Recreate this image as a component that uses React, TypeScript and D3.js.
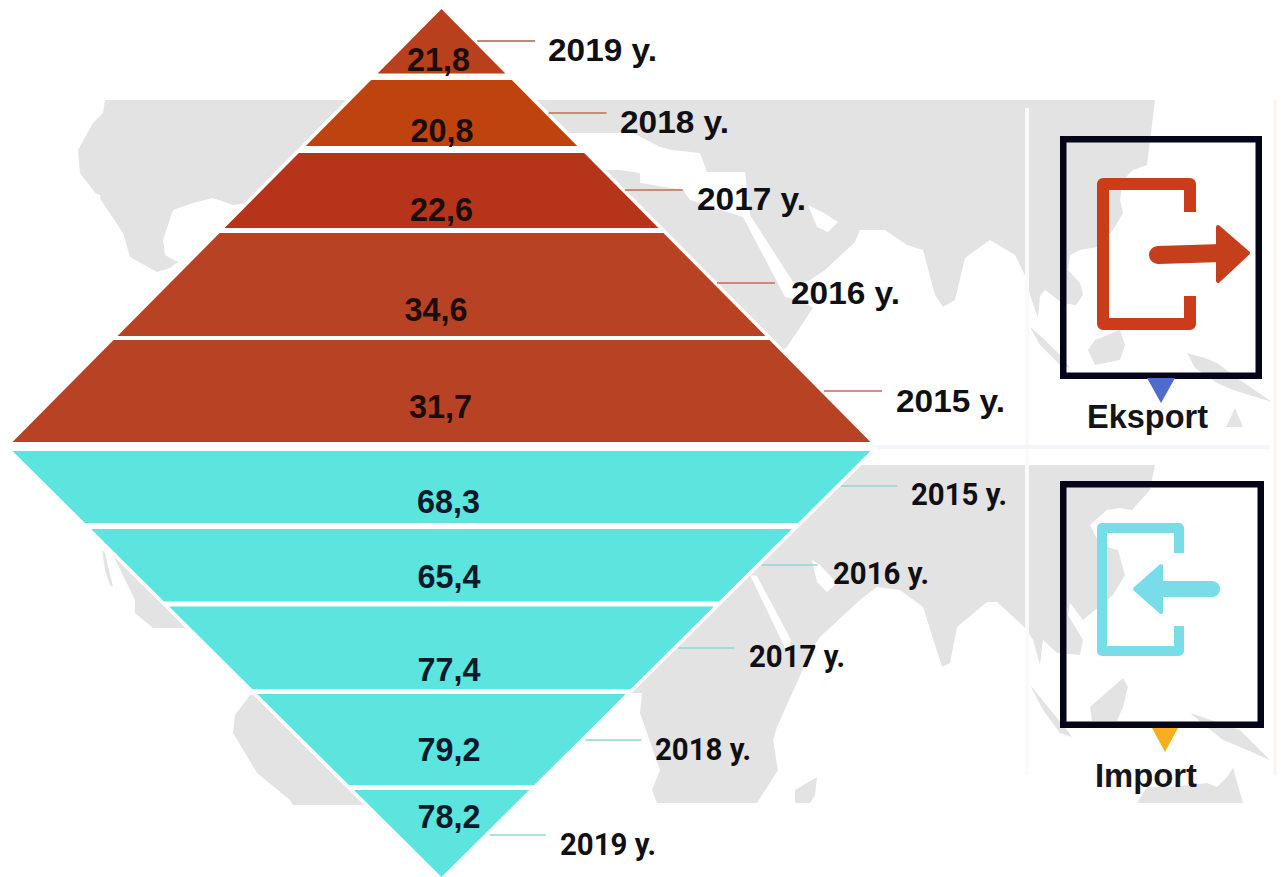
import React from "react";
import * as d3 from "d3";

// ---- data ----
const exportYears = ["2019 y.", "2018 y.", "2017 y.", "2016 y.", "2015 y."];
const exportValues = ["21,8", "20,8", "22,6", "34,6", "31,7"];
const importYears = ["2015 y.", "2016 y.", "2017 y.", "2018 y.", "2019 y."];
const importValues = ["68,3", "65,4", "77,4", "79,2", "78,2"];
const exportColors = ["#B8401C", "#BF430E", "#B6351A", "#B84224", "#B84224"];
const importColor = "#5CE5DF";
const legendExport = "Eksport";
const legendImport = "Import";

// ---- layout, separate from the data ----
const W = 1283, H = 877;
const cx = 441.5, halfBase = 429;
const upTop = 9, upBase = 442, lowTop = 451, lowApex = 877;
const upEdges: [number, number][] = [[9, 73.5], [80, 146], [153, 228], [233, 336], [340, 442]];
const lowEdges: [number, number][] = [[451, 523], [529, 601.5], [606.5, 689], [694, 785], [790, 877]];
const upLeader = [41, 113, 190, 283, 391];
const lowLeader = [486, 565, 648, 740, 835];
const upYearPos = [[548, 61, 109], [620, 133, 109], [697, 210, 109], [791, 304, 109], [896, 412, 109]];
const lowYearPos = [[911, 505, 96], [833, 584, 96], [749, 667, 96], [655, 760, 96], [560, 855, 96]];
const upValPos = [[438.5, 70.5], [442, 142], [441.5, 221], [436, 321], [440.5, 418]];
const lowValPos = [[448.5, 513], [449, 588], [449, 681], [449, 761], [449, 828]];

const upWidth = d3.scaleLinear().domain([upTop, upBase]).range([0, halfBase]);
const lowWidth = d3.scaleLinear().domain([lowApex, lowTop]).range([0, halfBase]);
const line = d3.line<[number, number]>().x((d) => d[0]).y((d) => d[1]);

function trapezoid(w: d3.ScaleLinear<number, number>, y0: number, y1: number) {
  const a = w(y0), b = w(y1);
  return line([[cx - a, y0], [cx + a, y0], [cx + b, y1], [cx - b, y1]]) + "Z";
}

const GRAY = "#E3E3E3";
const poly = (s: string) => "M" + s.trim().split(/\s+/).join("L") + "Z";

// decorative background map (export panel)
const exportMapMain = poly(`105,100 1155,100 1152,125 1147,165 1133,170 1123,180 1120,200 1123,213 1113,230 1097,247 1080,250 1070,255
 1068,270 1080,283 1083,295 1076,305 1062,303 1045,290 1040,296 1038,318 1030,295 1027,280 1015,255 990,240 965,258 955,300 943,307 935,295 923,250
 907,245 885,230 860,230 855,242 825,270 810,280 795,285 750,215 747,190 745,172 707,172 700,153 672,150 660,147 633,133
 441,133 441,203 250,203 233,205 213,198 193,203 173,210 163,240 165,255 178,262 170,268 157,272 130,257 123,233 103,203 80,173 78,150 93,123 103,113`);
const exportMapAfrica = poly(`441,170 620,170 640,173 640,183 683,190 690,200 743,217 785,297 800,300 813,308 787,347 770,360 441,360`);
const exportMapIslands = [
  poly(`1030,327 1045,340 1062,357 1070,368 1060,365 1040,345`),
  poly(`1088,350 1095,340 1120,330 1125,345 1120,360 1095,365`),
  poly(`1187,353 1205,358 1217,363 1240,380 1272,402 1233,390 1217,383 1195,368`),
  poly(`1235,408 1243,427 1226,427`),
];
const exportMapHoles = [
  poly(`95,193 100,195 104,227 101,226`),
  poly(`808,205 817,227 828,232 838,222 822,212`),
];

// decorative background map (import panel)
const importMapMain = poly(`441,465 1155,465 1150,490 1132,510 1120,508 1107,510 1090,525 1100,545 1118,550 1125,575 1113,595 1083,620 1070,603 1068,615
 1083,640 1080,655 1057,653 1043,640 1040,665 1033,640 1027,630 1020,623 997,602 987,602 957,627 950,663 942,667 923,607 900,590 877,587 860,600
 820,637 813,647 777,727 773,740 778,770 757,803 657,803 652,790 660,770 640,713 642,693 441,693`);
const importMapPieces = [
  poly(`113,555 135,600 135,613 153,628 173,628 210,628 130,555`),
  poly(`102,550 105,553 113,587 110,585 105,570`),
  poly(`250,695 235,715 233,733 257,773 290,800 293,805 357,805 400,805 300,695`),
  poly(`795,803 795,790 817,777 815,795 810,803`),
  poly(`1030,685 1067,730 1072,737 1060,733 1043,710`),
  poly(`1090,707 1113,687 1123,678 1128,687 1123,707 1117,721 1092,721`),
  poly(`1190,713 1240,730 1270,760 1240,747 1223,740 1207,727`),
  poly(`1233,768 1243,803 1137,803 1147,787 1173,787 1207,783 1217,787 1227,777`),
];
const importMapHoles = [
  poly(`750,575 757,576 791,640 787,652`),
  poly(`812,560 817,582 827,592 837,583 820,565`),
];

const upHead = poly(`1218,227 1248,253 1218,281`);
const lowHead = poly(`1135,589 1161,566 1161,612`);

const ARIAL = "'Liberation Sans', Arial, sans-serif";
const ROBOTO = "Roboto, sans-serif";

export default function App() {
  return (
    <svg width={W} height={H} viewBox={`0 0 ${W} ${H}`}
      style={{ position: "absolute", left: 0, top: 0, display: "block", background: "#fff" }}>
      {/* background map */}
      <path d={exportMapMain} fill={GRAY} />
      <path d={exportMapAfrica} fill={GRAY} />
      {exportMapIslands.map((d, i) => <path key={i} d={d} fill={GRAY} />)}
      {exportMapHoles.map((d, i) => <path key={i} d={d} fill="#fff" />)}
      <path d={importMapMain} fill={GRAY} />
      {importMapPieces.map((d, i) => <path key={i} d={d} fill={GRAY} />)}
      {importMapHoles.map((d, i) => <path key={i} d={d} fill="#fff" />)}
      <path d={`M1027,108V775`} stroke="#FAFAFD" strokeWidth={4} fill="none" />
      <path d={`M1275,100V775`} stroke="#FDF1EE" strokeWidth={3} fill="none" />
      <path d={`M872,447H1270`} stroke="#F3F5FB" strokeWidth={4} fill="none" />

      {/* white halo of the two pyramids */}
      <path d={trapezoid(upWidth, upTop, upBase)} fill="#fff" stroke="#fff" strokeWidth={7} strokeLinejoin="miter" />
      <path d={trapezoid(lowWidth, lowTop, lowApex)} fill="#fff" stroke="#fff" strokeWidth={7} strokeLinejoin="miter" />

      {/* slices */}
      {upEdges.map(([a, b], i) => (
        <path key={i} d={trapezoid(upWidth, a, b)} fill={exportColors[i]} />
      ))}
      {lowEdges.map(([a, b], i) => (
        <path key={i} d={trapezoid(lowWidth, a, b)} fill={importColor} />
      ))}

      {/* leaders */}
      {upLeader.map((y, i) => (
        <line key={i} x1={cx + upWidth(y) + 4} x2={cx + upWidth(y) + 62} y1={y} y2={y}
          stroke={i === 0 ? "#A9604F" : "#C66B52"} strokeWidth={1.6} />
      ))}
      {lowLeader.map((y, i) => (
        <line key={i} x1={cx + lowWidth(y) + 6} x2={cx + lowWidth(y) + 62} y1={y} y2={y} stroke="#8CD8D3" strokeWidth={1.4} />
      ))}

      {/* value labels */}
      {exportValues.map((v, i) => (
        <text key={v} x={upValPos[i][0]} y={upValPos[i][1]} textAnchor="middle" fontFamily={ARIAL} fontWeight={700}
          fontSize={33} fill="#1C0D0B" textLength={63} lengthAdjust="spacingAndGlyphs">{v}</text>
      ))}
      {importValues.map((v, i) => (
        <text key={v} x={lowValPos[i][0]} y={lowValPos[i][1]} textAnchor="middle" fontFamily={ARIAL} fontWeight={700}
          fontSize={33} fill="#0A1A2A" textLength={63} lengthAdjust="spacingAndGlyphs">{v}</text>
      ))}

      {/* year labels */}
      {exportYears.map((t, i) => (
        <text key={t} x={upYearPos[i][0]} y={upYearPos[i][1]} fontFamily={ARIAL} fontWeight={700} fontSize={32}
          fill="#101014" textLength={upYearPos[i][2]} lengthAdjust="spacingAndGlyphs">{t}</text>
      ))}
      {importYears.map((t, i) => (
        <text key={t} x={lowYearPos[i][0]} y={lowYearPos[i][1]} fontFamily={ROBOTO} fontWeight={700} fontSize={31}
          fill="#101014" textLength={lowYearPos[i][2]} lengthAdjust="spacingAndGlyphs">{t}</text>
      ))}

      {/* export legend */}
      <rect x={1063.25} y={139.25} width={195.5} height={236.5} fill="none" stroke="#05051A" strokeWidth={6.5} />
      <path d="M1190,212V184H1103V324H1190V296" fill="none" stroke="#CC3C1B" strokeWidth={12} strokeLinejoin="round" />
      <path d="M1158,255L1222,253" stroke="#C63F1D" strokeWidth={18} strokeLinecap="round" fill="none" />
      <path d={upHead} fill="#C63F1D" stroke="#C63F1D" strokeWidth={4} strokeLinejoin="round" />
      <path d="M1147,378H1175L1161,403Z" fill="#4F6BCB" />
      <text x={1147.5} y={428} textAnchor="middle" fontFamily={ARIAL} fontWeight={700} fontSize={33} fill="#14141A"
        textLength={121} lengthAdjust="spacingAndGlyphs">{legendExport}</text>

      {/* import legend */}
      <rect x={1063.25} y={484.25} width={197.5} height={240.5} fill="none" stroke="#05051A" strokeWidth={6.5} />
      <path d="M1179,553V528H1102V651H1179V626" fill="none" stroke="#79DDE9" strokeWidth={10} strokeLinejoin="round" />
      <path d="M1158,589L1212,589" stroke="#79DDE9" strokeWidth={16} strokeLinecap="round" fill="none" />
      <path d={lowHead} fill="#79DDE9" stroke="#79DDE9" strokeWidth={4} strokeLinejoin="round" />
      <path d="M1152,728H1178L1165,752Z" fill="#F9AE1E" />
      <text x={1146} y={787} textAnchor="middle" fontFamily={ARIAL} fontWeight={700} fontSize={33} fill="#14141A"
        textLength={102} lengthAdjust="spacingAndGlyphs">{legendImport}</text>
    </svg>
  );
}
